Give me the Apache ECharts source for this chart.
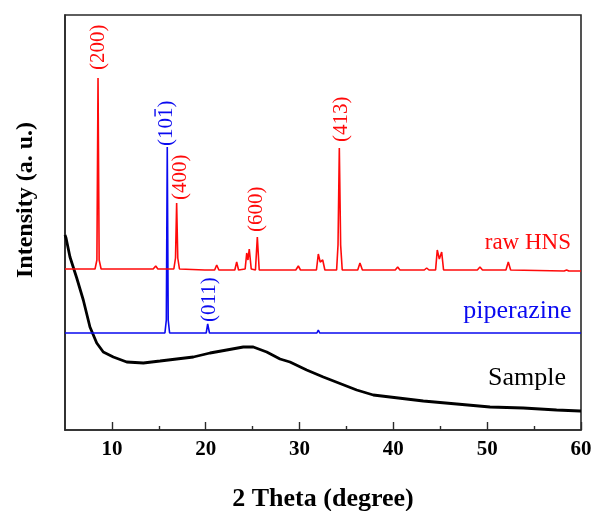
<!DOCTYPE html>
<html>
<head>
<meta charset="utf-8">
<script src="https://cdn.jsdelivr.net/npm/echarts@6/dist/echarts.min.js"></script>
<style>
  html, body { margin: 0; padding: 0; background: #fff; }
  #chart { width: 592px; height: 511px; }
</style>
</head>
<body>
<div id="chart"></div>
<script>
// ---------- data ----------
const tickValues = [10, 20, 30, 40, 50, 60];
const minorTickValues = [15, 25, 35, 45, 55];

// raw HNS pattern (2θ, intensity in arbitrary units, offset stacked)
const hnsPoints = [
  [5, 161], [8.2, 161], [8.4, 170], [8.52, 352], [8.64, 170], [8.85, 161],
  [12.5, 161], [12.7, 162], [12.9, 161],
  [14.4, 161], [14.67, 164], [14.9, 161],
  [16.6, 161], [16.78, 172], [16.9, 227], [17.02, 172], [17.2, 161],
  [19.9, 160], [20.1, 162], [20.3, 160],
  [20.95, 160], [21.17, 165], [21.4, 160],
  [23.1, 160], [23.3, 168], [23.5, 160],
  [24.2, 161], [24.37, 177], [24.5, 170], [24.64, 181], [24.85, 161],
  [25.3, 160], [25.5, 193], [25.7, 160],
  [27.2, 160], [27.4, 162], [27.6, 160],
  [28.4, 160], [28.6, 162], [28.8, 160],
  [29.6, 160], [29.87, 164], [30.1, 160],
  [31.8, 160], [32.0, 176], [32.2, 168], [32.47, 170], [32.7, 160],
  [33.95, 160], [34.1, 185], [34.24, 282], [34.38, 185], [34.55, 160],
  [36.2, 160], [36.44, 167], [36.7, 160],
  [40.2, 160], [40.46, 163], [40.7, 160],
  [43.3, 160], [43.55, 162], [43.8, 160],
  [44.5, 160], [44.68, 180], [44.9, 171], [45.15, 178], [45.35, 160],
  [48.95, 160], [49.23, 163], [49.5, 160],
  [52.0, 160], [52.25, 168], [52.5, 160],
  [58.2, 159], [58.47, 160], [58.7, 159],
  [60, 159]
];

// piperazine pattern
const pipPoints = [
  [5, 97], [15.65, 97], [15.8, 110], [15.9, 283], [16.0, 110], [16.15, 97],
  [20.05, 97], [20.21, 106], [20.4, 97],
  [22.8, 97], [22.94, 99], [23.1, 97],
  [27.4, 97], [27.57, 98], [27.75, 97],
  [30.8, 97], [30.93, 99], [31.1, 97],
  [31.85, 97], [32.0, 100], [32.15, 97],
  [46.0, 97], [46.2, 98], [46.4, 97],
  [60, 97]
];

// Sample pattern (amorphous)
const samplePoints = [
  [5.0, 195], [5.11, 192], [5.53, 173], [6.25, 152], [6.95, 130], [7.66, 103],
  [8.38, 87], [9.08, 78], [10.15, 73], [11.58, 68], [13.35, 67], [15.13, 69],
  [16.9, 71], [18.68, 73], [20.46, 77], [22.24, 80], [24.0, 83], [25.07, 83],
  [26.5, 78], [27.92, 71], [28.98, 68], [30.76, 60], [32.53, 53], [36.09, 40],
  [37.86, 35], [39.64, 33], [43.19, 29], [46.75, 26], [50.3, 23], [53.85, 22],
  [57.4, 20], [59.9, 19], [60, 19]
];

// peak index labels: text, anchor 2θ, anchor intensity, which pattern
const peakLabelText = ['(200)', '(400)', '(600)', '(413)', '(101)', '(011)'];
const peakLabelX    = [8.62, 17.26, 25.36, 34.42, 15.77, 20.35];
const peakLabelY    = [360, 230, 198, 288, 284, 108];
const peakLabelSet  = ['hns', 'hns', 'hns', 'hns', 'pip', 'pip'];

// pattern names
const nameText = ['raw HNS', 'piperazine', 'Sample'];
const nameX    = [58.93, 59.0, 58.4];
const nameY    = [186.8, 118.8, 51.7];
const nameSet  = ['hns', 'pip', 'sample'];

// ---------- styling ----------
const SERIF = '"Liberation Serif", "Times New Roman", serif';
const RED = '#ff0a0a';
const BLUE = '#0a0af0';
const BLACK = '#000000';
const FRAME = '#2a2a2a';
const colorOf = { hns: RED, pip: BLUE, sample: BLACK };
const nameSize = { hns: 23, pip: 26, sample: 26 };

const chart = echarts.init(document.getElementById('chart'), null, { renderer: 'canvas' });

const option = {
  animation: false,
  backgroundColor: '#fff',
  grid: {
    left: 65, right: 11, top: 15, bottom: 81,
    outerBoundsMode: 'none', containLabel: false,
    show: true, borderColor: FRAME, borderWidth: 1.6, backgroundColor: 'transparent'
  },
  xAxis: [
    {
      type: 'value', min: 5, max: 60, position: 'bottom',
      axisLine: { show: true, onZero: false, lineStyle: { color: FRAME, width: 1.6 } },
      axisTick: { show: true, inside: true, length: 8, customValues: tickValues,
                  lineStyle: { color: FRAME, width: 1.4 } },
      axisLabel: { customValues: tickValues, fontFamily: SERIF, fontWeight: 'bold',
                   fontSize: 21, color: '#000', margin: 9 },
      splitLine: { show: false },
      name: '2 Theta (degree)', nameLocation: 'middle', nameGap: 56,
      nameTextStyle: { fontFamily: SERIF, fontWeight: 'bold', fontSize: 26, color: '#000' }
    },
    {
      type: 'value', min: 5, max: 60, position: 'bottom', gridIndex: 0,
      axisLine: { show: false },
      axisTick: { show: true, inside: true, length: 4, customValues: minorTickValues,
                  lineStyle: { color: FRAME, width: 1.4 } },
      axisLabel: { show: false },
      splitLine: { show: false }
    }
  ],
  yAxis: {
    type: 'value', min: 0, max: 415,
    axisLine: { show: true, onZero: false, lineStyle: { color: FRAME, width: 1.6 } },
    axisTick: { show: false }, axisLabel: { show: false }, splitLine: { show: false }
  },
  series: [
    { name: 'Sample', type: 'line', data: samplePoints, symbol: 'none', xAxisIndex: 0,
      lineStyle: { color: BLACK, width: 2.8 }, z: 2 },
    { name: 'piperazine', type: 'line', data: pipPoints, symbol: 'none', xAxisIndex: 0,
      lineStyle: { color: BLUE, width: 1.6 }, z: 3 },
    { name: 'raw HNS', type: 'line', data: hnsPoints, symbol: 'none', xAxisIndex: 0,
      lineStyle: { color: RED, width: 1.6 }, z: 4 }
  ]
};
chart.setOption(option);

// ---------- annotations ----------
const graphics = [];
const LABEL_SIZE = 21;
peakLabelText.forEach((t, i) => {
  const p = chart.convertToPixel({ gridIndex: 0 }, [peakLabelX[i], peakLabelY[i]]);
  const col = colorOf[peakLabelSet[i]];
  const children = [{
    type: 'text', x: 0, y: 0,
    style: { text: t, fill: col, font: LABEL_SIZE + 'px ' + SERIF, align: 'left', verticalAlign: 'middle' }
  }];
  if (t === '(101)') {
    // bar over the last index (1 0 1-bar)
    const w0 = LABEL_SIZE * 1.333, w1 = LABEL_SIZE * 1.833;
    children.push({
      type: 'line', z: 10, shape: { x1: w0 + 1.5, y1: -11, x2: w1 - 1.5, y2: -11 },
      style: { stroke: col, lineWidth: 1.4 }
    });
  }
  graphics.push({ type: 'group', x: p[0], y: p[1], rotation: Math.PI / 2, children });
});
nameText.forEach((t, i) => {
  const p = chart.convertToPixel({ gridIndex: 0 }, [nameX[i], nameY[i]]);
  graphics.push({
    type: 'text', x: p[0], y: p[1],
    style: { text: t, fill: colorOf[nameSet[i]], font: nameSize[nameSet[i]] + 'px ' + SERIF,
             align: 'right', verticalAlign: 'middle' }
  });
});
graphics.push({
  type: 'text', x: 25.5, y: 200, rotation: Math.PI / 2,
  style: { text: 'Intensity (a. u.)', fill: '#000', font: 'bold 24px ' + SERIF,
           align: 'center', verticalAlign: 'middle' }
});
chart.setOption({ graphic: graphics });
</script>
</body>
</html>
